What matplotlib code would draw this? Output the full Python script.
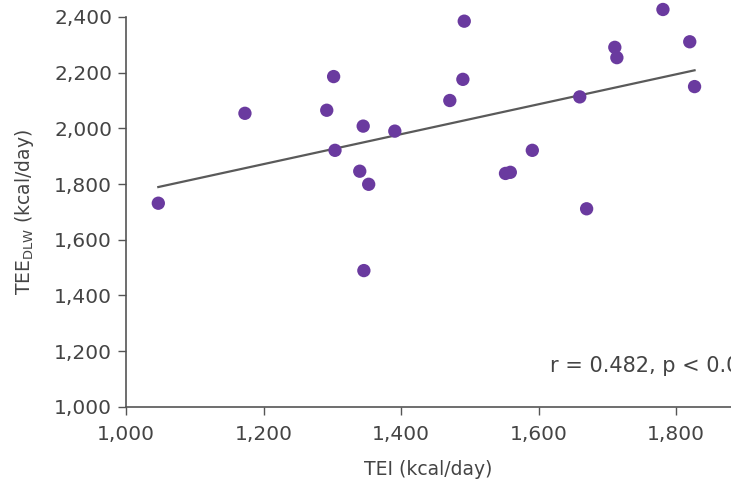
import numpy as np
import matplotlib
matplotlib.use("Agg")
import matplotlib.pyplot as plt

# TEI (kcal/day) vs TEE by doubly labelled water (kcal/day)
tei = [1047, 1173, 1292, 1302, 1304, 1345, 1340, 1353, 1346, 1391,
       1471, 1492, 1490, 1552, 1559, 1591, 1660, 1670, 1711, 1714,
       1781, 1820, 1827]
tee = [1731, 2054, 2065, 2186, 1921, 2008, 1846, 1799, 1489, 1990,
       2100, 2385, 2176, 1838, 1842, 1921, 2113, 1711, 2291, 2254,
       2427, 2311, 2150]

x_ticks = [1000, 1200, 1400, 1600, 1800]
y_ticks = [1000, 1200, 1400, 1600, 1800, 2000, 2200, 2400]
stat_text = "r = 0.482, p < 0.05"

plt.rcParams["font.family"] = ["DejaVu Sans"]
gray = "#444444"

fig = plt.figure(figsize=(7.31, 4.87), dpi=100)
ax = fig.add_axes([126 / 731, 1 - 406.7 / 487, 1 - 126 / 731,
                   (406.7 - 17) / 487])

slope, icpt = np.polyfit(tei, tee, 1)
xs = np.array([min(tei), max(tei)])
ax.plot(xs, slope * xs + icpt, color="#5a5a5a", lw=1.6, zorder=2)
ax.scatter(tei, tee, s=92, color="#6a3a9f", edgecolors="none",
           zorder=3, clip_on=False)

ax.set_xlim(1000, 1880)
ax.set_ylim(1000, 2400)
ax.set_xticks(x_ticks)
ax.set_yticks(y_ticks)
ax.set_xticklabels([f"{v:,}" for v in x_ticks])
ax.set_yticklabels([f"{v:,}" for v in y_ticks])
for side in ("top", "right"):
    ax.spines[side].set_visible(False)
for side in ("left", "bottom"):
    ax.spines[side].set_color("#555555")
    ax.spines[side].set_linewidth(1.2)
ax.tick_params(length=6, width=1, color="#555555", labelcolor=gray,
               labelsize=14.5)
ax.tick_params(axis="x", pad=7)
ax.tick_params(axis="y", pad=4)

ax.set_xlabel("TEI (kcal/day)", fontsize=13.5, color=gray, labelpad=12)
ax.set_ylabel(r"$\mathregular{TEE_{DLW}}$ (kcal/day)", fontsize=13.5,
              color=gray, labelpad=13)
ax.text(1617, 1145, stat_text, fontsize=15, color=gray,
        ha="left", va="center", clip_on=False)

fig.savefig("out.png", dpi=100)
